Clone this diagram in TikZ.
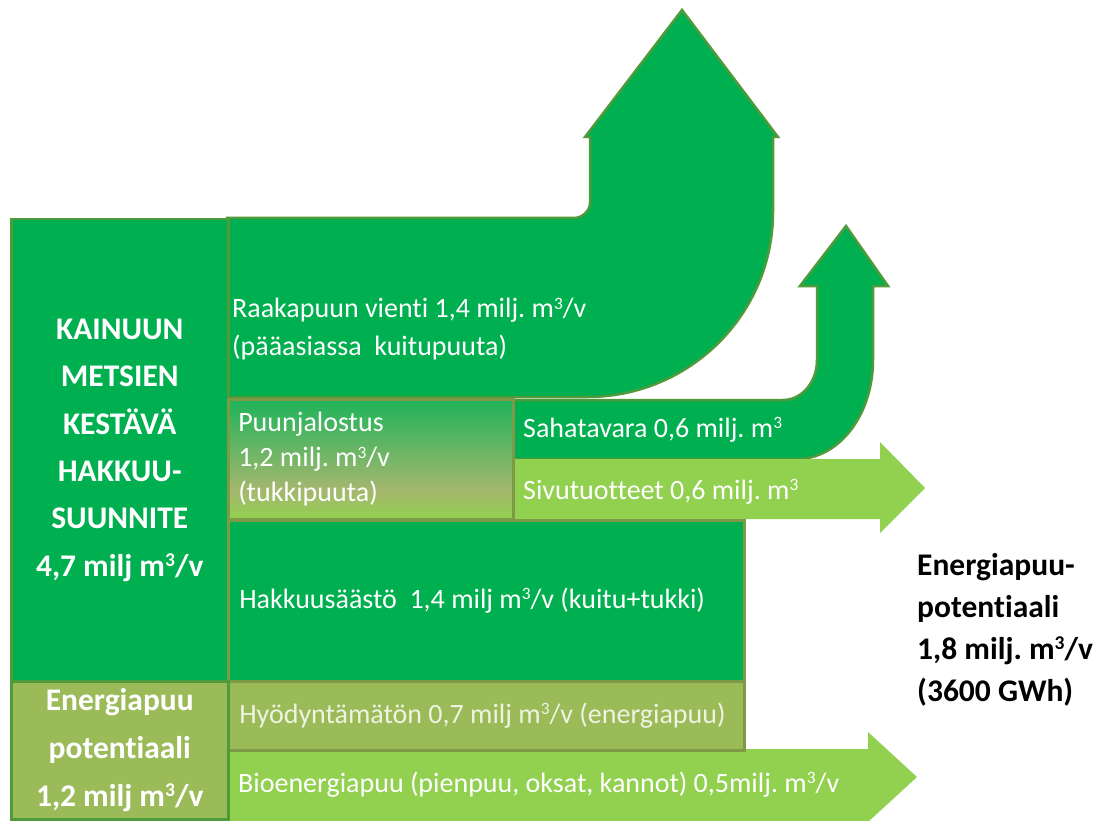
\documentclass[tikz,border=0pt]{standalone}
\usepackage{fontspec}
\setmainfont{Carlito}[Ligatures=NoCommon]
\usetikzlibrary{positioning}
\definecolor{kgreen}{HTML}{00AF50}
\definecolor{kedge}{HTML}{4F9A3A}
\definecolor{kolive}{HTML}{9BBB59}
\definecolor{klight}{HTML}{92D050}
\definecolor{kbrown}{HTML}{7E9A47}
\definecolor{kpale}{HTML}{EEF3E2}
\pgfdeclareverticalshading{puushade}{100bp}{rgb(0bp)=(0.573,0.816,0.314); rgb(25bp)=(0.573,0.816,0.314); rgb(37bp)=(0.647,0.718,0.431); rgb(75bp)=(0.118,0.702,0.353); rgb(100bp)=(0.118,0.702,0.353)}
\newcommand{\kuutio}{\raisebox{0.31em}{\scalebox{0.62}{3}}}
\frenchspacing

\begin{document}
\begin{tikzpicture}[
    x=1pt, y=-1pt,
    box/.style={rectangle, draw=kedge, line width=2.5pt, anchor=north west, inner xsep=11pt, inner ysep=0pt, text=white, font=\fontsize{28}{38}\selectfont},
    flow/.style={fill=kgreen, draw=kedge, line width=2.5pt},
    lflow/.style={fill=klight, draw=none},
    txt/.style={text=white, inner sep=0pt, font=\fontsize{28}{38}\selectfont}
]
\useasboundingbox (0,0) rectangle (1095,821);

% Export arrow
\draw[flow] (227,218) -- (574,218) .. controls (582,218) and (590,211) .. (590,203)
    -- (590,137) -- (585,137) -- (682,10) -- (778,137) -- (773,137) -- (773,212)
    .. controls (773,314) and (690,397) .. (587,397) -- (227,397) -- cycle;

% Sawn timber arrow
\draw[flow] (505,400) -- (783,400) .. controls (802,400) and (817,382) .. (817,360)
    -- (817,286) -- (800,286) -- (846,226) -- (888,286) -- (873,286) -- (873,360)
    .. controls (873,415) and (839,459) .. (797,459) -- (505,459) -- cycle;

% By-products arrow
\fill[lflow] (505,459) -- (880,459) -- (880,442) -- (925,488) -- (880,533)
    -- (880,519) -- (505,519) -- cycle;

% Bioenergy arrow
\fill[lflow] (227,749) -- (868,749) -- (868,732) -- (917,777) -- (868,822)
    -- (868,830) -- (227,830) -- cycle;

% Boxes
\node[box, fill=kgreen, minimum width=217pt, minimum height=462pt, text width=205pt, inner xsep=6pt, align=flush center,
    font=\bfseries\fontsize{31.5}{47.4}\selectfont] (kainuu) at (10,218)
    {KAINUUN\\METSIEN\\KESTÄVÄ\\HAKKUU-\\SUUNNITE\\4,7 milj m\kuutio/v};
\node[box, draw=kbrown, shading=puushade, minimum width=285pt, minimum height=120pt, inner xsep=10pt,
    text width=265pt, align=flush left, font=\fontsize{28}{35}\selectfont] (puunj) at (227,398)
    {Puunjalostus\\1,2 milj. m\kuutio/v\\(tukkipuuta)};
\node[box, draw=kbrown, fill=kgreen, minimum width=516pt, minimum height=161pt, text width=494pt,
    align=flush left] (saasto) at (227,519) {Hakkuusäästö\ \ 1,4 milj m\kuutio/v (kuitu+tukki)};
\node[box, draw=kbrown, fill=kolive, text=kpale, minimum width=516pt, minimum height=69pt,
    text width=494pt, align=flush left] (hyod) at (227,680) {Hyödyntämätön 0,7 milj m\kuutio/v (energiapuu)};
\node[box, fill=kolive, minimum width=217pt, minimum height=138pt, text width=205pt, inner xsep=6pt, align=flush center,
    font=\bfseries\fontsize{31.5}{48}\selectfont] (energia) at (10,680)
    {Energiapuu\\potentiaali\\1,2 milj m\kuutio/v};

% Flow labels
\node[txt, anchor=west, align=left] (raaka) at (232,329)
    {Raakapuun vienti 1,4 milj. m\kuutio/v\\(pääasiassa\ \ kuitupuuta)};
\node[txt, anchor=base west] (saha) at (523,437) {Sahatavara 0,6 milj. m\kuutio};
\node[txt, anchor=base west] (sivu) at (523,499) {Sivutuotteet 0,6 milj. m\kuutio};
\node[txt, anchor=base west] (bio) at (238,792) {Bioenergiapuu (pienpuu, oksat, kannot) 0,5milj. m\kuutio/v};

% Potential
\node[anchor=west, align=left, inner sep=0pt, font=\bfseries\fontsize{31.5}{42}\selectfont] (potent) at (917,630)
    {Energiapuu-\\potentiaali\\1,8 milj. m\kuutio/v\\(3600 GWh)};

\end{tikzpicture}
\end{document}
